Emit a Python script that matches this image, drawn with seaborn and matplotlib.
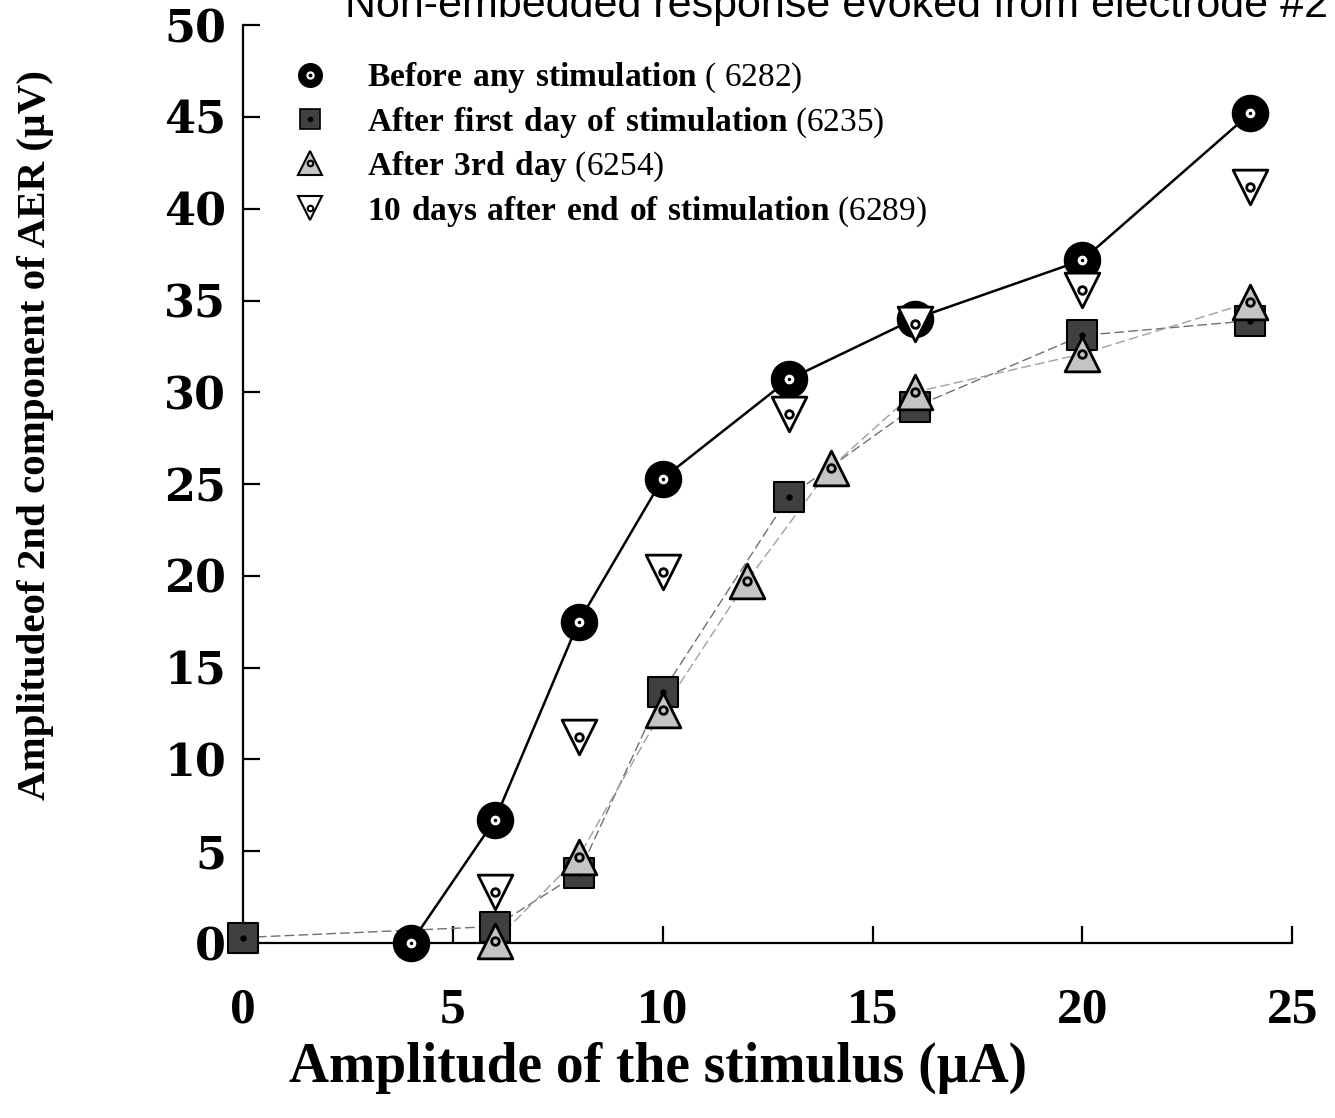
import matplotlib
matplotlib.use("Agg")
import matplotlib.pyplot as plt
import seaborn as sns
from matplotlib.lines import Line2D
from matplotlib.legend_handler import HandlerTuple

# Stimulus amplitudes (uA) and AER 2nd-component amplitudes (uV)
stim_before = [4, 6, 8, 10, 13, 16, 20, 24]
aer_before = [0.0, 6.7, 17.5, 25.3, 30.7, 34.0, 37.2, 45.2]

stim_day1 = [0, 6, 8, 10, 13, 16, 20, 24]
aer_day1 = [0.3, 0.9, 3.8, 13.7, 24.3, 29.2, 33.1, 33.9]

stim_day3 = [6, 8, 10, 12, 14, 16, 20, 24]
aer_day3 = [0.1, 4.7, 12.7, 19.7, 25.9, 30.0, 32.1, 34.9]

stim_after10 = [6, 8, 10, 13, 16, 20, 24]
aer_after10 = [2.8, 11.2, 20.2, 28.8, 33.7, 35.6, 41.2]

series_labels = [
    r"$\mathbf{Before\ any\ stimulation}$ ( 6282)",
    r"$\mathbf{After\ first\ day\ of\ stimulation}$ (6235)",
    r"$\mathbf{After\ 3rd\ day}$ (6254)",
    r"$\mathbf{10\ days\ after\ end\ of\ stimulation}$ (6289)",
]
x_ticks = [0, 5, 10, 15, 20, 25]
y_ticks = [0, 5, 10, 15, 20, 25, 30, 35, 40, 45, 50]

sns.set_style("ticks")
plt.rcParams["font.family"] = ["Liberation Serif", "DejaVu Serif"]
plt.rcParams["mathtext.fontset"] = "custom"
plt.rcParams["mathtext.rm"] = "Liberation Serif"
plt.rcParams["mathtext.bf"] = "Liberation Serif:bold"
for key in ("text.color", "axes.labelcolor", "xtick.color", "ytick.color",
            "xtick.labelcolor", "ytick.labelcolor", "axes.edgecolor"):
    plt.rcParams[key] = "black"

fig = plt.figure(figsize=(13.35, 11.18), dpi=100)
ax = fig.add_axes([0.182, 0.1565, 0.786, 0.821])

# connecting lines
sns.lineplot(x=stim_day1, y=aer_day1, ax=ax, color="#707070", lw=1.0,
             linestyle=(0, (7, 3)), zorder=2)
sns.lineplot(x=stim_day3, y=aer_day3, ax=ax, color="#a0a0a0", lw=1.0,
             linestyle=(0, (7, 3)), zorder=2)
sns.lineplot(x=stim_before, y=aer_before, ax=ax, color="black", lw=1.8, zorder=3)

# markers
sns.scatterplot(x=stim_day1, y=aer_day1, ax=ax, marker="s", s=21.5 ** 2,
                color="#404040", edgecolor="black", linewidth=1.5, zorder=4, clip_on=False)
sns.scatterplot(x=stim_day1, y=aer_day1, ax=ax, marker="o", s=16,
                color="black", edgecolor="black", linewidth=0.5, zorder=4.1, clip_on=False)
sns.scatterplot(x=stim_before, y=aer_before, ax=ax, marker="o", s=26 ** 2,
                color="black", edgecolor="black", linewidth=1, zorder=5, clip_on=False)
sns.scatterplot(x=stim_before, y=aer_before, ax=ax, marker="o", s=7 ** 2,
                color="white", edgecolor="white", linewidth=0, zorder=5.1, clip_on=False)
sns.scatterplot(x=stim_before, y=aer_before, ax=ax, marker="o", s=2.5 ** 2,
                color="black", edgecolor="black", linewidth=0, zorder=5.2, clip_on=False)
sns.scatterplot(x=stim_day3, y=aer_day3, ax=ax, marker="^", s=25 ** 2,
                color="#c4c4c4", edgecolor="black", linewidth=2, zorder=6, clip_on=False)
sns.scatterplot(x=stim_day3, y=aer_day3, ax=ax, marker="o", s=5.5 ** 2,
                color="#c4c4c4", edgecolor="black", linewidth=2, zorder=6.1, clip_on=False)
sns.scatterplot(x=stim_after10, y=aer_after10, ax=ax, marker="v", s=25 ** 2,
                color="white", edgecolor="black", linewidth=2, zorder=7, clip_on=False)
sns.scatterplot(x=stim_after10, y=aer_after10, ax=ax, marker="o", s=5.5 ** 2,
                color="white", edgecolor="black", linewidth=2, zorder=7.1, clip_on=False)

ax.set_xlim(0, 25)
ax.set_ylim(0, 50)
ax.set_xticks(x_ticks)
ax.set_yticks(y_ticks)
ax.set_xticklabels([str(t) for t in x_ticks])
ax.set_yticklabels([str(t) for t in y_ticks])
sns.despine(ax=ax)
for sp in ("left", "bottom"):
    ax.spines[sp].set_linewidth(1.6)
    ax.spines[sp].set_color("black")
ax.tick_params(axis="both", direction="in", length=12, width=1.6, color="black",
               labelcolor="black")
ax.tick_params(axis="x", pad=32)
ax.tick_params(axis="y", pad=12)
for lab in ax.get_xticklabels():
    lab.set_fontfamily("Liberation Serif")
    lab.set_fontweight("bold")
    lab.set_fontsize(37)
for lab in ax.get_yticklabels():
    lab.set_fontfamily("DejaVu Serif")
    lab.set_fontweight("bold")
    lab.set_fontsize(32)

ax.set_xlabel("Amplitude of the stimulus (\u00b5A)", fontsize=40, fontweight="bold",
              family="Liberation Serif")
ax.xaxis.set_label_coords(0.396, -0.108)
ax.set_ylabel("Amplitudeof 2nd component of AER (\u00b5V)", fontsize=29.5,
              fontweight="bold", family="Liberation Serif")
ax.yaxis.set_label_coords(-0.18, 0.553)

fig.text(345 / 1335, 1 - 17 / 1118, "Non-embedded response evoked from electrode #2",
         family="Liberation Sans", fontsize=31, ha="left", va="baseline")

# legend handles: outer marker plus centre dot
h_before = (Line2D([], [], ls="", marker="o", ms=17, mfc="black", mec="black"),
            Line2D([], [], ls="", marker="o", ms=5, mfc="white", mec="white"),
            Line2D([], [], ls="", marker="o", ms=1.8, mfc="black", mec="black"))
h_day1 = (Line2D([], [], ls="", marker="s", ms=15, mfc="#404040", mec="black", mew=1.2),
          Line2D([], [], ls="", marker="o", ms=3, mfc="black", mec="black"))
h_day3 = (Line2D([], [], ls="", marker="^", ms=17, mfc="#c4c4c4", mec="black", mew=1.5),
          Line2D([], [], ls="", marker="o", ms=4, mfc="#c4c4c4", mec="black", mew=1.5))
h_after = (Line2D([], [], ls="", marker="v", ms=17, mfc="white", mec="black", mew=1.5),
           Line2D([], [], ls="", marker="o", ms=4, mfc="white", mec="black", mew=1.5))
ax.legend([h_before, h_day1, h_day3, h_after], series_labels,
          handler_map={tuple: HandlerTuple(ndivide=1, pad=0)},
          loc="upper left", bbox_to_anchor=(0.0324, 0.9755), frameon=False,
          fontsize=24, handlelength=1.2, handletextpad=1.1, labelspacing=0.3,
          borderaxespad=0)

fig.savefig("out.png", dpi=100)
